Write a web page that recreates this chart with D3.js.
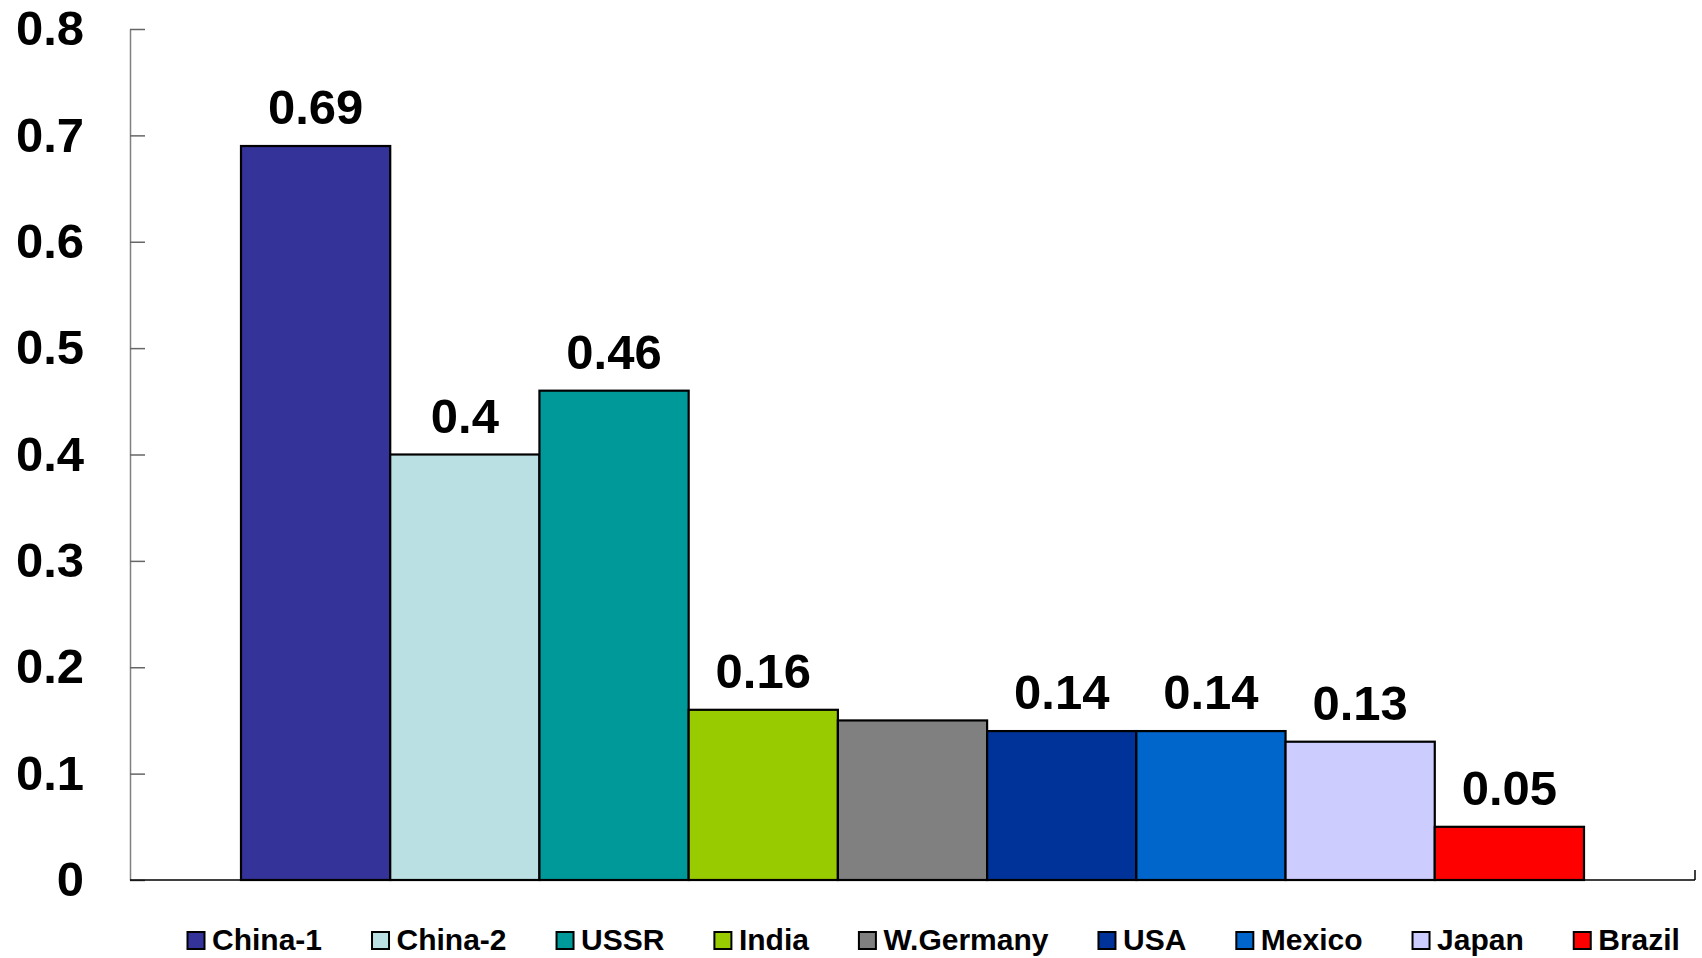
<!DOCTYPE html>
<html>
<head>
<meta charset="utf-8">
<script src="https://cdn.jsdelivr.net/npm/d3@7"></script>
<style>
  html, body { margin: 0; padding: 0; background: #fff; }
  svg { display: block; font-family: "Liberation Sans", Arial, sans-serif; font-weight: bold; }
</style>
</head>
<body>
<svg id="chart" width="1702" height="958"></svg>
<script>
// ---- data ----
const countries = ["China-1", "China-2", "USSR", "India", "W.Germany", "USA", "Mexico", "Japan", "Brazil"];
const values    = [0.69, 0.40, 0.46, 0.16, 0.15, 0.14, 0.14, 0.13, 0.05];
const showLabel = [true, true, true, true, false, true, true, true, true];
const colors    = ["#333399", "#BBE0E3", "#009999", "#99CC00", "#808080", "#003399", "#0066CC", "#CCCCFF", "#FF0000"];
const yTickValues = [0, 0.1, 0.2, 0.3, 0.4, 0.5, 0.6, 0.7, 0.8];
const yTickLabels = ["0", "0.1", "0.2", "0.3", "0.4", "0.5", "0.6", "0.7", "0.8"];

// ---- layout ----
const svg = d3.select("#chart");
const plotLeft = 130, plotRight = 1695, plotTop = 29, plotBottom = 880;
const barsLeft = 241, barsRight = 1584;

const x = d3.scaleBand().domain(countries).range([barsLeft, barsRight]).padding(0);
const y = d3.scaleLinear().domain([0, 0.8]).range([plotBottom, plotTop]);

// y axis
const yAxis = d3.axisLeft(y)
  .tickValues(yTickValues)
  .tickFormat((d, i) => yTickLabels[i])
  .tickSizeInner(-15)
  .tickSizeOuter(0)
  .tickPadding(46);

const gy = svg.append("g").attr("transform", `translate(${plotLeft},0)`).call(yAxis);
gy.select(".domain").attr("stroke", "#808080").attr("stroke-width", 1.5);
gy.selectAll(".tick line").attr("stroke", "#666").attr("stroke-width", 1.5);
gy.selectAll(".tick text")
  .attr("fill", "#000")
  .style("font-size", "49px")
  .style("font-weight", "bold")
  .style("font-family", "'Liberation Sans', Arial, sans-serif");

// bars
svg.append("g").selectAll("rect")
  .data(countries)
  .join("rect")
  .attr("x", d => x(d))
  .attr("y", (d, i) => y(values[i]))
  .attr("width", x.bandwidth())
  .attr("height", (d, i) => y(0) - y(values[i]))
  .attr("fill", (d, i) => colors[i])
  .attr("stroke", "#000")
  .attr("stroke-width", 2.2);

// baseline (x axis)
svg.append("line")
  .attr("x1", plotLeft).attr("x2", plotRight)
  .attr("y1", y(0)).attr("y2", y(0))
  .attr("stroke", "#000").attr("stroke-width", 1.5);
svg.append("line")
  .attr("x1", plotRight).attr("x2", plotRight)
  .attr("y1", y(0) - 10).attr("y2", y(0))
  .attr("stroke", "#000").attr("stroke-width", 1.5);

// data labels
svg.append("g").selectAll("text")
  .data(countries.filter((d, i) => showLabel[i]))
  .join("text")
  .attr("x", d => x(d) + x.bandwidth() / 2)
  .attr("y", d => y(values[countries.indexOf(d)]) - 22)
  .attr("text-anchor", "middle")
  .style("font-size", "49px")
  .attr("fill", "#000")
  .text(d => String(values[countries.indexOf(d)]));

// legend
const legend = svg.append("g");
const legendY = 950;
let lx = 187.5;
countries.forEach((c, i) => {
  const g = legend.append("g");
  g.append("rect")
    .attr("x", lx).attr("y", legendY - 18)
    .attr("width", 17).attr("height", 17)
    .attr("fill", colors[i])
    .attr("stroke", "#000").attr("stroke-width", 2);
  const t = g.append("text")
    .attr("x", lx + 24.5).attr("y", legendY)
    .style("font-size", "30px")
    .attr("fill", "#000")
    .text(c);
  lx += 24.5 + t.node().getComputedTextLength() + 50;
});
</script>
</body>
</html>
